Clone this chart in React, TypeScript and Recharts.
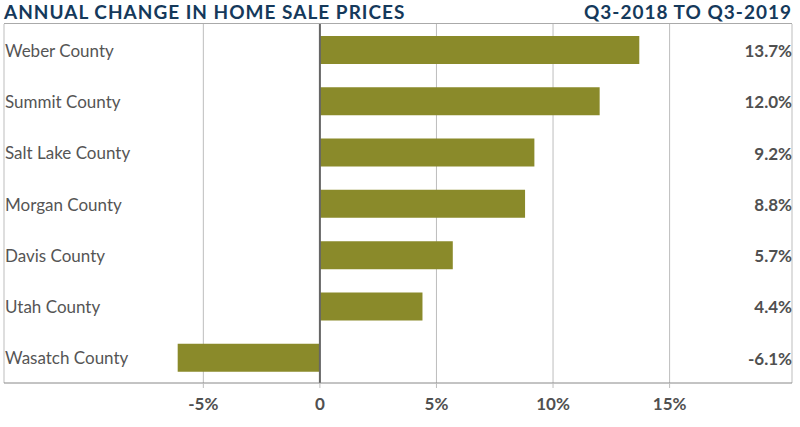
import { BarChart, Bar, XAxis, YAxis, CartesianGrid, ReferenceLine, LabelList } from 'recharts';

const counties = ['Weber County', 'Summit County', 'Salt Lake County', 'Morgan County', 'Davis County', 'Utah County', 'Wasatch County'];
const changes = [13.7, 12.0, 9.2, 8.8, 5.7, 4.4, -6.1];
const xTicks = [-5, 0, 5, 10, 15];

const data = counties.map((name, i) => ({ name, value: changes[i] }));

const FONT = 'Lato, "Open Sans", sans-serif';
const BAR = '#8a8a2a';

// county names sit inside the plot, left aligned
const CountyTick = (props: any) => {
  const { y, payload } = props;
  return (
    <text x={5} y={y} dy={7} textAnchor="start" fontSize={17} fill="#555" fontFamily={FONT}>
      {payload.value}
    </text>
  );
};

const ValueLabel = (props: any) => {
  const { y, height, value } = props;
  return (
    <text x={792} y={y + height / 2} dy={7} textAnchor="end" fontSize={17} fontWeight={700} fill="#505050" fontFamily={FONT}>
      {Number(value).toFixed(1)}%
    </text>
  );
};

export default function App() {
  return (
    <div style={{ position: 'absolute', left: 0, top: 0, width: 800, height: 427, background: '#fff' }}>
      <div
        style={{
          position: 'absolute', left: 4, top: 0, width: 788, height: 23,
          borderBottom: '1px solid #aaa', fontFamily: FONT, fontWeight: 700,
          color: '#15395b', fontSize: 19, letterSpacing: 1, lineHeight: '23px',
          display: 'flex', justifyContent: 'space-between',
        }}
      >
        <span>ANNUAL CHANGE IN HOME SALE PRICES</span>
        <span>Q3-2018 TO Q3-2019</span>
      </div>
      <BarChart
        width={800}
        height={427}
        data={data}
        layout="vertical"
        margin={{ top: 24, right: 8, left: 3, bottom: 14 }}
      >
        <CartesianGrid horizontal={false} stroke="#bdbdbd" />
        <XAxis
          type="number"
          domain={[-13.55, 20.25]}
          ticks={xTicks}
          allowDataOverflow
          height={30}
          tickFormatter={(v: number) => (v === 0 ? '0' : `${v}%`)}
          axisLine={{ stroke: '#888' }}
          tickLine={{ stroke: '#bdbdbd' }}
          tickSize={5}
          tickMargin={10}
          tick={{ fill: '#505050', fontSize: 17, fontWeight: 700, fontFamily: FONT }}
        />
        <YAxis
          type="category"
          dataKey="name"
          width={1}
          axisLine={false}
          tickLine={false}
          tick={(p: any) => <CountyTick {...p} />}
        />
        <Bar dataKey="value" fill={BAR} barSize={28} isAnimationActive={false}>
          <LabelList dataKey="value" content={<ValueLabel />} />
        </Bar>
        <ReferenceLine x={0} stroke="#666" strokeWidth={2} />
      </BarChart>
    </div>
  );
}
